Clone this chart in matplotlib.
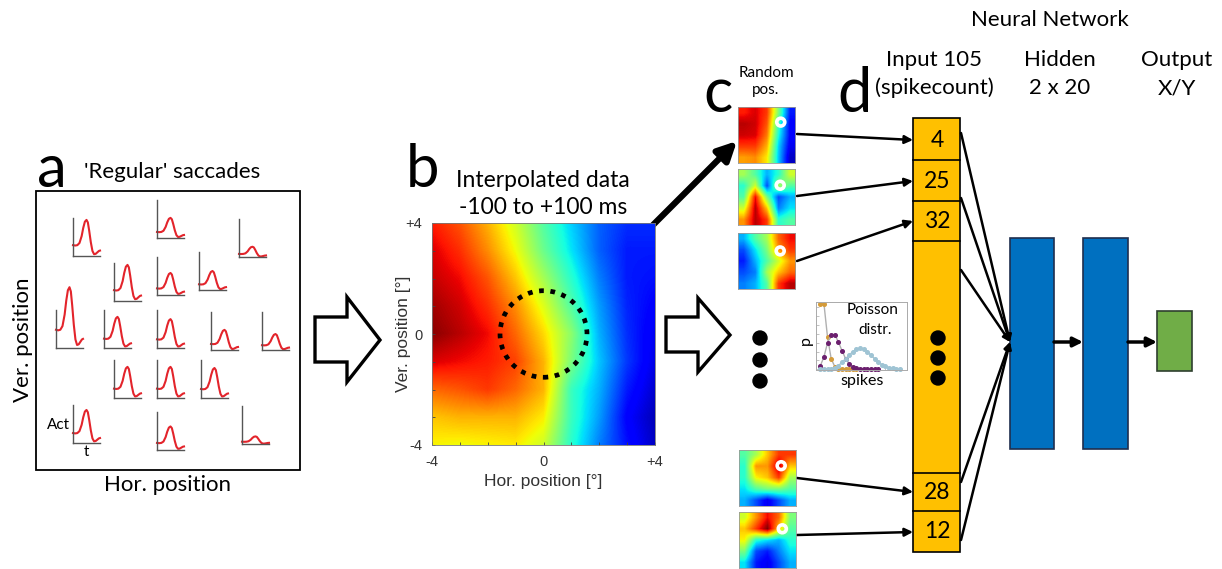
import numpy as np
import matplotlib.pyplot as plt
from matplotlib.patches import Rectangle, Circle, Polygon

plt.rcParams['font.family'] = ['Lato', 'DejaVu Sans']

W, H = 1222, 569

# ---- panel a: little activity traces ----
# shape of one trace (read off the tallest one), x and y as fraction of its axis
wave_t = [0.0, 0.08, 0.16, 0.24, 0.32, 0.38, 0.44, 0.50, 0.55, 0.60, 0.66, 0.72, 0.78, 0.84, 0.90, 0.96, 1.0]
wave_y = [0.30, 0.29, 0.30, 0.36, 0.55, 0.78, 0.95, 1.0, 0.93, 0.70, 0.38, 0.14, 0.05, 0.06, 0.10, 0.14, 0.15]
# peak height of each trace
trace_peaks = [0.95, 0.53, 0.27,
               0.95, 0.58, 0.50,
               1.6, 0.82, 0.76, 0.53, 0.42,
               0.82, 0.82, 0.79,
               0.87, 0.62, 0.20]

# ---- panel b: interpolated map, rows +4 (top) .. -4 (bottom), cols -4 .. +4 ----
heat_rows = [
    [0.88, 0.82, 0.72, 0.60, 0.45, 0.33, 0.22, 0.17, 0.17],
    [0.92, 0.86, 0.76, 0.64, 0.48, 0.35, 0.22, 0.15, 0.15],
    [0.94, 0.90, 0.82, 0.70, 0.55, 0.40, 0.25, 0.15, 0.14],
    [0.97, 0.93, 0.86, 0.76, 0.62, 0.45, 0.28, 0.16, 0.12],
    [0.99, 0.95, 0.90, 0.80, 0.68, 0.52, 0.30, 0.17, 0.10],
    [0.92, 0.90, 0.88, 0.84, 0.72, 0.50, 0.32, 0.18, 0.09],
    [0.80, 0.82, 0.85, 0.80, 0.72, 0.42, 0.30, 0.15, 0.07],
    [0.70, 0.72, 0.72, 0.72, 0.66, 0.42, 0.28, 0.12, 0.05],
    [0.65, 0.64, 0.65, 0.66, 0.60, 0.40, 0.25, 0.14, 0.06],
]
heat_ticks = [-4, 0, 4]
heat_ticklabels = ['-4', '0', '+4']
rf_radius = 1.56

# ---- panel c: random positions ----
rand_map1 = [[0.88, 0.92, 0.85, 0.50, 0.15],
             [0.95, 0.93, 0.82, 0.42, 0.12],
             [0.93, 0.92, 0.78, 0.38, 0.12],
             [0.85, 0.85, 0.72, 0.33, 0.10],
             [0.74, 0.76, 0.66, 0.32, 0.06]]
rand_map2 = [[0.55, 0.45, 0.30, 0.40, 0.60],
             [0.40, 0.60, 0.20, 0.55, 0.45],
             [0.45, 0.90, 0.50, 0.20, 0.30],
             [0.60, 0.95, 0.70, 0.25, 0.35],
             [0.75, 0.95, 0.85, 0.40, 0.45]]
rand_map3 = [[0.30, 0.45, 0.55, 0.80, 0.90],
             [0.20, 0.35, 0.50, 0.75, 0.85],
             [0.15, 0.30, 0.45, 0.60, 0.75],
             [0.20, 0.25, 0.55, 0.70, 0.80],
             [0.25, 0.30, 0.45, 0.85, 0.95]]
rand_map4 = [[0.45, 0.55, 0.70, 0.85, 0.85],
             [0.40, 0.75, 0.75, 0.95, 0.70],
             [0.40, 0.65, 0.70, 0.85, 0.55],
             [0.35, 0.45, 0.50, 0.50, 0.45],
             [0.30, 0.20, 0.10, 0.20, 0.30]]
rand_map5 = [[0.60, 0.75, 0.90, 0.80, 0.50],
             [0.70, 0.85, 1.00, 0.70, 0.45],
             [0.65, 0.40, 0.35, 0.30, 0.40],
             [0.50, 0.20, 0.15, 0.25, 0.35],
             [0.35, 0.15, 0.10, 0.20, 0.30]]
ring_x = [0.75, 0.74, 0.74, 0.74, 0.76]
ring_y = [0.27, 0.29, 0.32, 0.28, 0.30]

pois_orange = [0.37, 0.37, 0.18, 0.06, 0.015, 0.003, 0, 0, 0, 0, 0]
pois_purple = [0.02, 0.07, 0.15, 0.195, 0.195, 0.155, 0.105, 0.06, 0.03, 0.013, 0.005,
               0.002, 0.001, 0, 0, 0, 0]
pois_blue = [0, 0, 0.001, 0.004, 0.01, 0.02, 0.04, 0.06, 0.08, 0.10, 0.113, 0.119,
             0.114, 0.10, 0.08, 0.06, 0.04, 0.027, 0.016, 0.009, 0.005, 0.003, 0.001]

# ---- panel d: network ----
cell_labels = ['4', '25', '32', '28', '12']
layer_titles = [('Input 105', '(spikecount)'), ('Hidden', '2 x 20'), ('Output', 'X/Y')]


def box(x0, y0, x1, y1):
    return [x0 / W, 1 - y1 / H, (x1 - x0) / W, (y1 - y0) / H]


fig = plt.figure(figsize=(W / 100, H / 100), dpi=100)
ax = fig.add_axes([0, 0, 1, 1])
ax.set_xlim(0, W)
ax.set_ylim(H, 0)
ax.axis('off')

# ===== panel a =====
ax.text(52, 187, 'a', fontsize=43, ha='center', va='baseline')
ax.text(172, 172, "'Regular' saccades", fontsize=16, ha='center', va='center')
ax.add_patch(Rectangle((36, 191), 264, 279, fill=False, lw=1.3, ec='k'))
ax.text(23, 340, 'Ver. position', fontsize=16, rotation=90, ha='center', va='center')
ax.text(168, 485, 'Hor. position', fontsize=16, ha='center', va='center')
ax.text(70, 425, 'Act', fontsize=11, ha='right', va='center')
ax.text(86, 452, 't', fontsize=11, ha='center', va='center')

trace_pos = [(73, 256), (157, 238), (239, 257),
             (114, 301), (157, 295), (199, 290),
             (56, 348), (104, 348), (157, 348), (211, 350), (262, 350),
             (114, 398), (157, 398), (201, 398),
             (73, 443), (157, 450), (242, 444)]
for (x0, yb), pk in zip(trace_pos, trace_peaks):
    a = fig.add_axes(box(x0, yb - 38, x0 + 27, yb))
    a.plot(wave_t, np.array(wave_y) * pk, color='#e3242b', lw=1.5, clip_on=False)
    a.set_xlim(0, 1)
    a.set_ylim(0, 1)
    a.spines[['top', 'right']].set_visible(False)
    a.spines[['left', 'bottom']].set_color('#555555')
    a.spines[['left', 'bottom']].set_linewidth(1.0)
    a.set_xticks([])
    a.set_yticks([])
    a.patch.set_alpha(0)

# hollow arrow a -> b
ax.add_patch(Polygon([(315, 317), (347, 317), (347, 297), (380, 340), (347, 382),
                      (347, 362), (315, 362)], closed=True, fc='white', ec='k',
                     lw=2.4, joinstyle='miter'))

# ===== panel b =====
ax.text(422, 187, 'b', fontsize=43, ha='center', va='baseline')
ax.text(543, 180, 'Interpolated data', fontsize=16.5, ha='center', va='center')
ax.text(543, 207, '-100 to +100 ms', fontsize=16.5, ha='center', va='center')

hb = fig.add_axes(box(432, 223, 655, 445))
hb.imshow(np.array(heat_rows), cmap='jet', vmin=0, vmax=1, interpolation='bilinear',
          extent=[-4.5, 4.5, -4.5, 4.5], aspect='auto')
hb.add_patch(Circle((0, 0), rf_radius, fill=False, ec='k', lw=3.4,
                    linestyle=(0, (1, 1.4))))
hb.set_xlim(-4, 4)
hb.set_ylim(-4, 4)
hb.set_xticks(heat_ticks)
hb.set_xticklabels(heat_ticklabels)
hb.set_yticks(heat_ticks)
hb.set_yticklabels(heat_ticklabels)
hb.set_xticks(range(-4, 5), minor=True)
hb.set_yticks(range(-4, 5), minor=True)
hb.tick_params(which='both', direction='in', length=2.5, width=0.6, color='#444444',
               labelsize=10.5, labelcolor='#333333', pad=7)
for t in hb.get_xticklabels() + hb.get_yticklabels():
    t.set_family(['Liberation Sans', 'DejaVu Sans'])
for s in hb.spines.values():
    s.set_color('#777777')
    s.set_linewidth(0.6)
hb.set_xlabel('Hor. position [°]', fontsize=12.5, color='#333333',
              family=['Liberation Sans', 'DejaVu Sans'], labelpad=4)
hb.set_ylabel('Ver. position [°]', fontsize=12.5, color='#333333',
              family=['Liberation Sans', 'DejaVu Sans'], labelpad=-4)

# thick arrow b -> c
ax.annotate('', xy=(737, 141), xytext=(653, 225),
            arrowprops=dict(arrowstyle='-|>', lw=4.5, color='k', mutation_scale=28,
                            shrinkA=0, shrinkB=0))

# hollow arrow b -> c/d
ax.add_patch(Polygon([(666, 317), (698, 317), (698, 298), (730, 335), (698, 372),
                      (698, 352), (666, 352)], closed=True, fc='white', ec='k',
                     lw=2.4, joinstyle='miter'))

# ===== panel c =====
ax.text(718, 112, 'c', fontsize=44, ha='center', va='baseline')
ax.text(766, 73, 'Random', fontsize=11, ha='center', va='center')
ax.text(766, 90, 'pos.', fontsize=11, ha='center', va='center')

small_boxes = [(738, 107), (738, 169), (738, 233), (739, 450), (739, 512)]
small_maps = [rand_map1, rand_map2, rand_map3, rand_map4, rand_map5]
for (x0, y0), m, rx, ry in zip(small_boxes, small_maps, ring_x, ring_y):
    s = fig.add_axes(box(x0, y0, x0 + 57, y0 + 56))
    s.imshow(np.array(m), cmap='jet', vmin=0, vmax=1, interpolation='bilinear',
             extent=(0, 1, 1, 0), aspect='auto')
    s.add_patch(Circle((rx, ry), 0.07, fill=False, ec='white', lw=2.6))
    s.set_xlim(0, 1)
    s.set_ylim(1, 0)
    s.set_xticks([])
    s.set_yticks([])
    for sp in s.spines.values():
        sp.set_color('#999999')
        sp.set_linewidth(0.6)

for cy in [338, 360, 381]:
    ax.add_patch(Circle((760, cy), 7, color='k'))

# Poisson inset
pa = fig.add_axes(box(816, 302, 907, 370))
for vals, mc, lc in [(pois_orange, '#d49b3a', '#b0b0b0'),
                     (pois_purple, '#6b1f6e', '#b0b0b0'),
                     (pois_blue, '#9fc4d4', '#a9c3cf')]:
    pa.plot(range(len(vals)), vals, color=lc, lw=1.0, marker='o', ms=2.6,
            mfc=mc, mec=mc, clip_on=False)
pa.set_xlim(-1.2, 24)
pa.set_ylim(-0.004, 0.38)
pa.set_xticks(range(0, 25, 2))
pa.set_yticks(np.arange(0, 0.38, 0.05))
pa.tick_params(direction='in', length=1.8, width=0.5, color='#aaaaaa',
               labelleft=False, labelbottom=False)
for sp in pa.spines.values():
    sp.set_color('#aaaaaa')
    sp.set_linewidth(0.7)
pa.patch.set_alpha(0)
ax.text(873, 310, 'Poisson', fontsize=11, ha='center', va='center', zorder=5)
ax.text(875, 330, 'distr.', fontsize=11, ha='center', va='center', zorder=5)
ax.text(806, 340, 'p', fontsize=11.5, rotation=90, ha='center', va='center')
ax.text(862, 381, 'spikes', fontsize=11.5, ha='center', va='center')

# ===== panel d =====
ax.text(855, 112, 'd', fontsize=44, ha='center', va='baseline')
ax.text(1050, 20, 'Neural Network', fontsize=16, ha='center', va='center')
for cx, (l1, l2) in zip([934, 1060, 1177], layer_titles):
    ax.text(cx, 60, l1, fontsize=16, ha='center', va='center')
    ax.text(cx, 88, l2, fontsize=16, ha='center', va='center')

# input column
ax.add_patch(Rectangle((913, 118), 47, 434, fc='#ffc000', ec='k', lw=1.2))
for yd in [160, 201, 241, 473, 511]:
    ax.plot([913, 960], [yd, yd], color='k', lw=1.2)
cell_y = [140, 181, 221, 492, 532]
for cy, lab in zip(cell_y, cell_labels):
    ax.text(937, cy, lab, fontsize=16.5, ha='center', va='center')
for cy in [338, 358, 378]:
    ax.add_patch(Circle((938, cy), 7, color='k'))

# arrows from random positions to input cells
src_y = [134, 196, 261, 478, 535]
for sy, cy in zip(src_y, cell_y):
    ax.annotate('', xy=(913, cy), xytext=(797, sy),
                arrowprops=dict(arrowstyle='-|>', lw=1.8, color='k', mutation_scale=12,
                                shrinkA=0, shrinkB=0))

# input -> hidden
for sy in [133, 198, 270, 482, 540]:
    ax.annotate('', xy=(1010, 342), xytext=(961, sy),
                arrowprops=dict(arrowstyle='-|>', lw=1.8, color='k', mutation_scale=10,
                                shrinkA=0, shrinkB=0))

# hidden and output layers
ax.add_patch(Rectangle((1010, 238), 44, 211, fc='#0070c0', ec='#1f2f4f', lw=1.2))
ax.add_patch(Rectangle((1083, 238), 45, 211, fc='#0070c0', ec='#1f2f4f', lw=1.2))
ax.add_patch(Rectangle((1157, 311), 35, 60, fc='#70ad47', ec='#2f3f2f', lw=1.2))
for x0, x1 in [(1054, 1083), (1128, 1157)]:
    ax.annotate('', xy=(x1, 342), xytext=(x0, 342),
                arrowprops=dict(arrowstyle='-|>', lw=2.5, color='k', mutation_scale=14,
                                shrinkA=0, shrinkB=0))

fig.savefig('out.png', dpi=100)
